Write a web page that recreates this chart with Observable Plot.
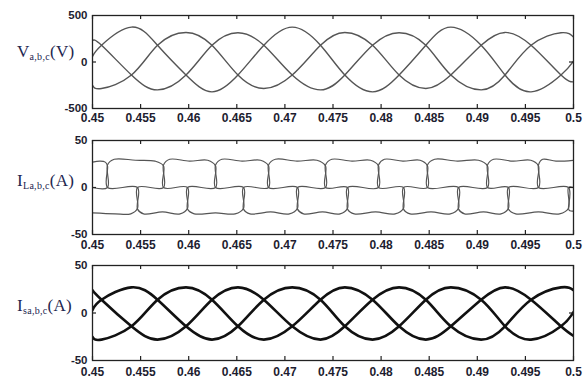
<!DOCTYPE html>
<html><head><meta charset="utf-8">
<script src="https://cdn.jsdelivr.net/npm/d3@7"></script>
<script src="https://cdn.jsdelivr.net/npm/@observablehq/plot@0.6"></script>
<style>
body{margin:0;background:#fff;width:586px;height:383px;overflow:hidden;}
#wrap{width:586px;height:383px;}
#wrap svg{display:block;}
</style></head><body><div id="wrap"></div>
<script>
// ---------- shared axis data ----------
const xTicks = [0.45,0.455,0.46,0.465,0.47,0.475,0.48,0.485,0.49,0.495,0.5];
const xTickLabels = ["0.45","0.455","0.46","0.465","0.47","0.475","0.48","0.485","0.49","0.495","0.5"];

// ---------- panel 1 : supply voltages (V) ----------
const vTicks = [-500, 0, 500];
const vTickLabels = ["-500", "0", "500"];
const vTime = [0.45, 0.45094, 0.45405, 0.45676, 0.45972, 0.46242, 0.46512, 0.46781, 0.47076, 0.47370,
               0.47623, 0.47911, 0.48187, 0.48465, 0.48725, 0.49040, 0.49288, 0.49559, 0.49870, 0.5];
const vA = [60, 180, 375, 180, -140, -321, -140, 180, 375, 180, -140, -321, -140, 180, 375, 180, -140, -321, -140, 10];
const vB = [-250, -285, -140, 180, 318, 180, -140, -285, -140, 180, 318, 180, -140, -285, -140, 180, 318, 180, -140, -214];
const vC = [232, 180, -140, -300, -140, 180, 315, 180, -140, -300, -140, 180, 315, 180, -140, -300, -140, 180, 315, 268];

// ---------- panel 2 : load currents (A) ----------
const iTicks = [-50, 0, 50];
const iTickLabels = ["-50", "0", "50"];
// conduction intervals: [start, end, edgeIn, early, middle, late, edgeOut]  (null = cut by the axis)
const iLA = [
  [0.45156, 0.45738, 24, 30, 29, 28, 23],
  [0.45988, 0.46570, -23, -28, -27, -28, -22],
  [0.46830, 0.47422, 24, 30, 28, 29, 23],
  [0.47651, 0.48233, -23, -28, -26, -28, -22],
  [0.48482, 0.49106, 24, 30, 28, 29, 23],
  [0.49324, 0.49948, -23, -28, -26, -28, -22]
];
const iLB = [
  [0.45, 0.45468, null, -27, -28, -28, -22],
  [0.45738, 0.46279, 24, 30, 28, 29, 23],
  [0.46570, 0.47131, -23, -28, -26, -28, -22],
  [0.47422, 0.47973, 24, 30, 28, 29, 23],
  [0.48233, 0.48805, -23, -28, -26, -28, -22],
  [0.49106, 0.49636, 24, 30, 28, 29, 23],
  [0.49948, 0.5, -22, -24, -25, -25, null]
];
const iLC = [
  [0.45, 0.45156, null, 27, 28, 27, 23],
  [0.45468, 0.45988, -23, -28, -26, -28, -22],
  [0.46279, 0.46830, 24, 30, 28, 29, 23],
  [0.47131, 0.47651, -23, -28, -26, -28, -22],
  [0.47973, 0.48482, 24, 30, 28, 29, 23],
  [0.48805, 0.49324, -23, -28, -26, -28, -22],
  [0.49636, 0.5, 24, 30, 28, 29, null]
];

// ---------- panel 3 : source currents (A) ----------
const sTime = vTime;
const sA = [3, 14, 27, 14, -14, -28, -14, 14, 27, 14, -14, -28, -14, 14, 27, 14, -14, -28, -14, 1];
const sB = [-25, -28, -14, 14, 27, 14, -14, -28, -14, 14, 27, 14, -14, -28, -14, 14, 27, 14, -14, -24];
const sC = [24, 14, -14, -28, -14, 14, 27, 14, -14, -28, -14, 14, 27, 14, -14, -28, -14, 14, 27, 24];

// ---------- builders ----------
function rowsFrom(time, vals, phase){ return time.map((t,i)=>({t, v: vals[i], phase})); }
function rowsFromIntervals(iv, phase){
  const out = [];
  iv.forEach(([s,e,ein,a,m,l,eout]) => {
    const d = e - s;
    if (ein === null) { out.push({t:s, v:a, phase}); }
    else { out.push({t:s, v:0, phase}); out.push({t:s, v:ein, phase}); out.push({t:s+d*0.12, v:a, phase}); }
    out.push({t:s+d*0.5, v:m, phase});
    if (eout === null) { out.push({t:e, v:l, phase}); }
    else { out.push({t:s+d*0.85, v:l, phase}); out.push({t:e, v:eout, phase}); out.push({t:e, v:0, phase}); }
  });
  if (out[0].t > 0.45) out.unshift({t:0.45, v:0, phase});
  if (out[out.length-1].t < 0.5) out.push({t:0.5, v:0, phase});
  return out;
}

const W = 586, ML = 92, MR = 13;
const INK = "#1d1d30";

function panel({height, marginTop, marginBottom, yDomain, yTicks, yLabels, data, stroke, strokeWidth, curve, label, sub, unit, labelY, pad}){
  const fh = height - marginTop - marginBottom;
  const fw = W - ML - MR;
  const svg = Plot.plot({
    width: W, height, marginLeft: ML, marginRight: MR, marginTop, marginBottom,
    style: {background: "#fff", fontFamily: "Arial, 'Liberation Sans', sans-serif"},
    x: {domain: [0.45, 0.5], label: null},
    y: {domain: yDomain, label: null},
    marks: [
      Plot.line(data, {x: "t", y: "v", z: "phase", stroke, strokeWidth, curve, clip: true}),
      Plot.tickX(xTicks, {x: d => d, insetTop: fh - 4, stroke: "#222", strokeWidth: 1.2}),
      Plot.tickX(xTicks, {x: d => d, insetBottom: fh - 4, stroke: "#222", strokeWidth: 1.2}),
      Plot.tickY([0], {y: d => d, insetRight: fw - 4, stroke: "#222", strokeWidth: 1.2}),
      Plot.tickY([0], {y: d => d, insetLeft: fw - 4, stroke: "#222", strokeWidth: 1.2}),
      Plot.frame({stroke: "#222", strokeWidth: 1.3}),
      Plot.axisX({ticks: xTicks, tickSize: 0, tickPadding: pad, fontSize: 12, fontWeight: "bold", fill: INK, label: null,
                  tickFormat: d => xTickLabels[xTicks.indexOf(d)]}),
      Plot.axisY({ticks: yTicks, tickSize: 0, tickPadding: 5, fontSize: 11.5, fontWeight: "bold", fill: INK, label: null,
                  tickFormat: d => yLabels[yTicks.indexOf(d)]})
    ]
  });
  const s = d3.select(svg);
  const t = s.append("text").attr("x", 17).attr("y", labelY).attr("text-anchor", "start")
    .attr("font-family", "'Liberation Serif', 'DejaVu Serif', serif").attr("font-size", 17)
    .attr("fill", "#23264f").attr("letter-spacing", 0.3);
  t.append("tspan").text(label);
  t.append("tspan").attr("font-size", 10).attr("dy", 3).text(sub);
  t.append("tspan").attr("font-size", 17).attr("dy", -3).text(unit);
  document.getElementById("wrap").appendChild(svg);
}

// panel 1 occupies page y 0-128 (frame 15-108)
panel({height: 128, marginTop: 15, marginBottom: 20, yDomain: [-500, 500], yTicks: vTicks, yLabels: vTickLabels, pad: 5,
  data: [...rowsFrom(vTime, vA, "a"), ...rowsFrom(vTime, vB, "b"), ...rowsFrom(vTime, vC, "c")],
  stroke: "#555", strokeWidth: 1.4, curve: "natural", label: "V", sub: "a,b,c", unit: "(V)", labelY: 57});

// panel 2 occupies page y 128-254 (frame 140-234)
panel({height: 126, marginTop: 12, marginBottom: 20, yDomain: [-50, 50], yTicks: iTicks, yLabels: iTickLabels, pad: 6,
  data: [...rowsFromIntervals(iLA, "a"), ...rowsFromIntervals(iLB, "b"), ...rowsFromIntervals(iLC, "c")],
  stroke: "#555", strokeWidth: 1.2, curve: "catmull-rom", label: "I", sub: "La,b,c", unit: "(A)", labelY: 58});

// panel 3 occupies page y 254-383 (frame 265-360)
panel({height: 129, marginTop: 11, marginBottom: 23, yDomain: [-50, 50], yTicks: iTicks, yLabels: iTickLabels, pad: 7,
  data: [...rowsFrom(sTime, sA, "a"), ...rowsFrom(sTime, sB, "b"), ...rowsFrom(sTime, sC, "c")],
  stroke: "#111", strokeWidth: 2.6, curve: "natural", label: "I", sub: "sa,b,c", unit: "(A)", labelY: 57});
</script>
</body></html>
